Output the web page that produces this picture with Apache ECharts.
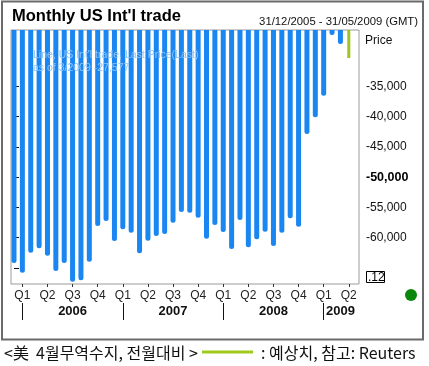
<!DOCTYPE html>
<html><head><meta charset="utf-8">
<script src="https://cdn.jsdelivr.net/npm/echarts@6/dist/echarts.min.js"></script>
<style>html,body{margin:0;padding:0;background:#fff}#c{width:429px;height:366px}</style>
</head><body><div id="c"></div>
<script>
// months shown on the time axis (Dec 2005 .. May 2009)
const months = ['2005-12',
 '2006-01','2006-02','2006-03','2006-04','2006-05','2006-06','2006-07','2006-08','2006-09','2006-10','2006-11','2006-12',
 '2007-01','2007-02','2007-03','2007-04','2007-05','2007-06','2007-07','2007-08','2007-09','2007-10','2007-11','2007-12',
 '2008-01','2008-02','2008-03','2008-04','2008-05','2008-06','2008-07','2008-08','2008-09','2008-10','2008-11','2008-12',
 '2009-01','2009-02','2009-03','2009-04','2009-05'];
// monthly US international trade balance (USD mn), Dec 2005 .. Mar 2009
const tradeBalance = [-64200,
 -65800,-62500,-61750,-63000,-65500,-64200,-67270,-67030,-63960,-58070,-57240,-60550,
 -58600,-59170,-62580,-60500,-59720,-59390,-57520,-55760,-55870,-56700,-60170,-57900,
 -59060,-61870,-57080,-61590,-60260,-59010,-61370,-59170,-56800,-58180,-42880,-40120,
 -36550,-26530,-28020];
// forecast for April 2009
const forecastMonth = '2009-04';
const forecastValue = -30330;
// right-axis ticks and labels
const yTickValues = [-65000,-60000,-55000,-50000,-45000,-40000,-35000];
const yLabelValues = [-60000,-55000,-50000,-45000,-40000,-35000];
const boldTick = -50000;
const yearLabelMonths = ['2006-07','2007-07','2008-07','2009-03'];
const yearStartMonths = ['2006-01','2007-01','2008-01','2009-01'];

const quarterIdx = months.map((m,i)=>[m,i]).filter(([m])=>['01','04','07','10'].includes(m.slice(5))).map(([m,i])=>i);
const yearLabelIdx = yearLabelMonths.map(m=>months.indexOf(m));
const yearStartIdx = yearStartMonths.map(m=>months.indexOf(m));
const fIdx = months.indexOf(forecastMonth);

const FONT = '"Liberation Sans", Arial, sans-serif';
const KFONT = '"Noto Sans CJK KR", sans-serif';
const xMin = -0.358, xMax = 41.22;

const chart = echarts.init(document.getElementById('c'), null, {renderer:'canvas'});
chart.setOption({
  animation:false,
  backgroundColor:'#fff',
  grid:{left:11, top:30, width:348, height:254, show:true, borderColor:'#9a9a9a', borderWidth:1, backgroundColor:'#fff'},
  xAxis:[{
    type:'value', min:xMin, max:xMax, position:'bottom',
    axisLine:{show:false}, splitLine:{show:false},
    axisTick:{show:true, length:3, customValues:quarterIdx, lineStyle:{color:'#333'}},
    axisLabel:{show:true, customValues:quarterIdx, margin:6, fontFamily:FONT, fontSize:12, color:'#222',
      formatter:v=>{const m=parseInt(months[Math.round(v)].slice(5),10);return 'Q'+(Math.floor((m-1)/3)+1);}}
  },{
    type:'value', min:xMin, max:xMax, position:'bottom', offset:19,
    axisLine:{show:false}, splitLine:{show:false},
    axisTick:{show:true, length:17, customValues:yearStartIdx, lineStyle:{color:'#111', width:1}},
    axisLabel:{show:true, customValues:yearLabelIdx, margin:1.5, fontFamily:FONT, fontSize:13, fontWeight:'bold', color:'#111',
      formatter:v=>months[Math.round(v)].slice(0,4)}
  }],
  yAxis:{
    type:'value', position:'right', min:-67650, max:-25700,
    axisLine:{show:false}, splitLine:{show:false},
    axisTick:{show:true, length:5, customValues:yTickValues, lineStyle:{color:'#111'}},
    axisLabel:{show:true, customValues:yLabelValues, margin:7, fontFamily:FONT, fontSize:12, color:'#111',
      formatter:v=>{const s=v.toLocaleString('en-US');return v===boldTick?'{b|'+s+'}':s;},
      rich:{b:{fontFamily:FONT, fontSize:12.5, fontWeight:'bold', color:'#000'}}}
  },
  series:[{
    type:'bar', xAxisIndex:0, clip:true, barWidth:5,
    itemStyle:{color:'#1a86f2', borderRadius:[0,0,2.5,2.5]},
    data:tradeBalance.map((v,i)=>[i,v])
  },{
    type:'bar', xAxisIndex:1, clip:true, barWidth:3,
    itemStyle:{color:'#9fc51c'},
    data:[[fIdx, forecastValue]]
  }],
  graphic:[
    {type:'rect', z:0, shape:{x:2, y:1.5, width:421, height:338}, style:{fill:null, stroke:'#6a6a6a', lineWidth:2}},
    {type:'text', z:100, style:{x:12, y:16, text:"Monthly US Int'l trade", font:'bold 16.5px '+FONT, fill:'#000', verticalAlign:'middle'}},
    {type:'text', z:100, style:{x:418, y:22, text:'31/12/2005 - 31/05/2009 (GMT)', font:'11.3px '+FONT, fill:'#111', align:'right', verticalAlign:'middle'}},
    {type:'text', z:100, style:{x:365, y:41, text:'Price', font:'12px '+FONT, fill:'#111', verticalAlign:'middle'}},
    {type:'text', z:100, style:{x:33, y:55, text:"Line, US Int'l trade, Last Price(Last)", font:'10.5px '+FONT, fill:'#8cc5fa', verticalAlign:'middle'}},
    {type:'text', z:100, style:{x:33, y:68, text:'as of 3/2009 -27,577', font:'10.5px '+FONT, fill:'#8cc5fa', verticalAlign:'middle'}},
    {type:'rect', z:100, shape:{x:366.5, y:271.5, width:18, height:11}, style:{fill:'#fff', stroke:'#000', lineWidth:1}},
    {type:'text', z:101, style:{x:368, y:277.5, text:'.12', font:'12px '+FONT, fill:'#000', verticalAlign:'middle'}},
    {type:'circle', z:100, shape:{cx:411, cy:295, r:6}, style:{fill:'#0b870b'}},
    {type:'text', z:100, style:{x:4, y:353, text:'<美  4월무역수지, 전월대비 >', font:'16px '+KFONT, fill:'#111', verticalAlign:'middle'}},
    {type:'line', z:100, shape:{x1:202, y1:352, x2:253, y2:352}, style:{stroke:'#9fcb1a', lineWidth:3}},
    {type:'text', z:100, style:{x:261, y:353, text:': 예상치, 참고: Reuters', font:'16px '+KFONT, fill:'#111', verticalAlign:'middle'}}
  ]
});
</script></body></html>
